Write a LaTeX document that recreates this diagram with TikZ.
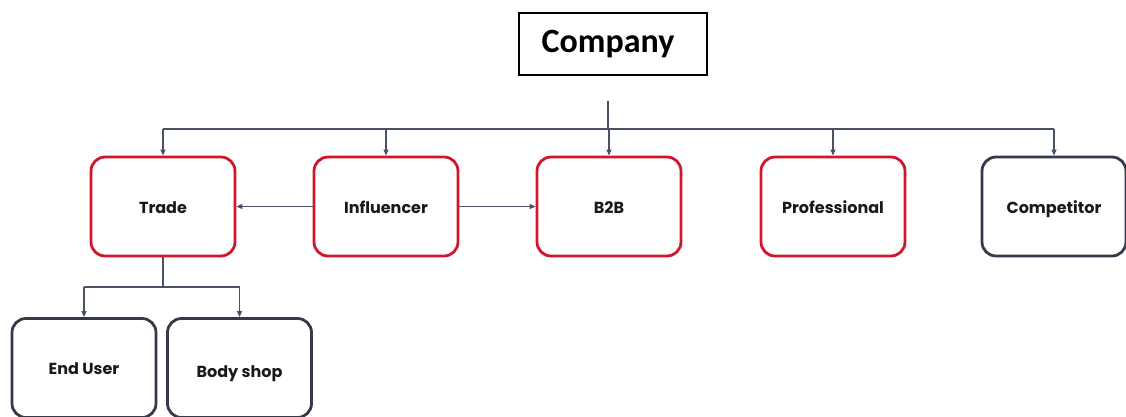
\documentclass[tikz,border=0pt]{standalone}
\usepackage{fontspec}
\setmainfont{Poppins}
\newfontfamily\carlito{Carlito}
\usetikzlibrary{arrows.meta}
\definecolor{boxred}{RGB}{208,22,44}
\definecolor{boxdark}{RGB}{52,58,74}
\definecolor{wire}{RGB}{72,82,98}
\tikzset{
  x=1pt, y=-1pt,
  unit/.style={draw, line width=2.8pt, rounded corners=14pt, minimum width=144pt,
    minimum height=99pt, inner sep=0pt, text height=15pt, text depth=2pt,
    font=\fontsize{16}{18}\selectfont\bfseries, text=black!90},
  redunit/.style={unit, draw=boxred},
  darkunit/.style={unit, draw=boxdark},
  wireline/.style={draw=wire, line width=1.2pt},
  feed/.style={wireline, -{Triangle[length=6pt,width=5pt]}},
}
\begin{document}
\begin{tikzpicture}
\useasboundingbox (0,0) rectangle (1126,416);
% top node
\node[draw, line width=1.3pt, minimum width=188pt, minimum height=62pt, inner sep=0pt,
  font=\carlito\fontsize{34}{38}\selectfont\bfseries] (company) at (613,44)
  {\hspace{-10pt}Company};
% second level
\node[redunit] (trade) at (163,206.5) {Trade};
\node[redunit] (infl) at (386,206.5) {Influencer};
\node[redunit] (b2b) at (609,206.5) {B2B};
\node[redunit] (prof) at (833,206.5) {Professional};
\node[darkunit] (comp) at (1054,206.5) {Competitor};
% third level
\node[darkunit] (end) at (84,368) {End User};
\node[darkunit] (body) at (239.5,368) {\raisebox{-3pt}{Body shop}};
% bus from the company
\coordinate (bustop) at (608,101);
\coordinate (bus) at (608,129);
\draw[wireline] (bustop) -- (bus);
\draw[wireline] (trade.north |- bus) -- (comp.north |- bus);
\foreach \n in {trade,infl,b2b,prof,comp}
  \draw[feed] (\n.north |- bus) -- (\n.north);
% influencer links
\draw[feed] (infl.west) -- (trade.east);
\draw[feed] (infl.east) -- (b2b.west);
% trade branch
\coordinate (split) at (163,287);
\draw[wireline] (trade.south) -- (split);
\draw[wireline] (end.north |- split) -- (body.north |- split);
\draw[feed] (end.north |- split) -- (end.north);
\draw[feed] (body.north |- split) -- (body.north);
\end{tikzpicture}
\end{document}
